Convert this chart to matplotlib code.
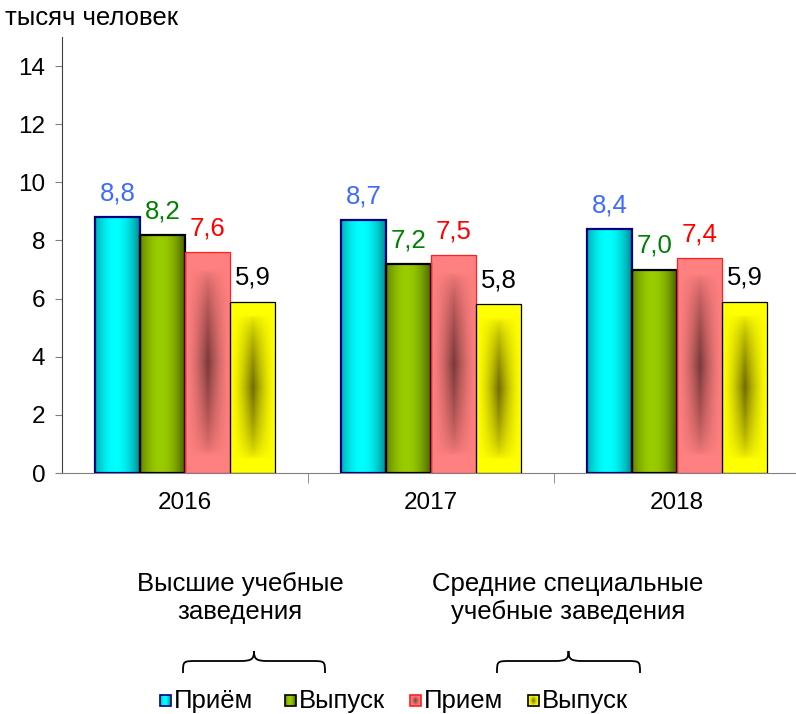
import numpy as np
import matplotlib
matplotlib.use("Agg")
import matplotlib.pyplot as plt
from matplotlib.path import Path
from matplotlib.patches import PathPatch, Rectangle
from matplotlib.colors import to_rgb

plt.rcParams["font.family"] = ["Liberation Sans", "DejaVu Sans"]

# данные
years = ["2016", "2017", "2018"]
vuz_priem = [8.8, 8.7, 8.4]
vuz_vypusk = [8.2, 7.2, 7.0]
ssuz_priem = [7.6, 7.5, 7.4]
ssuz_vypusk = [5.9, 5.8, 5.9]
series_names = ["Приём", "Выпуск", "Прием", "Выпуск"]
ylabel_text = "тысяч человек"
group_texts = ["Высшие учебные\nзаведения", "Средние специальные\nучебные заведения"]

series = [vuz_priem, vuz_vypusk, ssuz_priem, ssuz_vypusk]
# (край, центр, вид градиента, цвет обводки, толщина, цвет подписи)
styles = [
    ("#007880", "#00ffff", "h", "#000080", 1.6, "#3d6bff"),
    ("#3f5200", "#99cc00", "h", "#000000", 1.6, "#008000"),
    ("#ff8080", "#7a3838", "r", "#ff2020", 0.9, "#ff0000"),
    ("#ffff00", "#706c00", "r", "#000000", 0.9, "#000000"),
]

W, H = 796, 714
FS = 18.5
fig = plt.figure(figsize=(W / 100, H / 100), dpi=100)
ax = fig.add_axes([62 / W, 1 - 473 / H, 738 / W, (473 - 37) / H])


def grad_img(c_edge, c_mid, kind, n=120):
    e = np.array(to_rgb(c_edge))
    m = np.array(to_rgb(c_mid))
    xs = np.linspace(0, 1, n)
    X, Y = np.meshgrid(xs, xs)
    if kind == "h":
        t = np.sin(np.pi * (0.1 + 0.9 * X)) ** 0.8
    else:
        fx = np.clip(1 - np.abs(X - 0.5) / 0.5, 0, 1) ** 1.6
        fy = np.clip(1 - np.abs(Y - 0.5) / 0.42, 0, 1) ** 0.6
        t = fx * fy
    return e + (m - e) * t[..., None]


x = np.arange(len(years))
bw = 0.183
for i, (vals, st) in enumerate(zip(series, styles)):
    edge, mid, kind, ec, lw, lc = st
    pos = x + (i - 1.5) * bw
    bars = ax.bar(pos, vals, bw, color="none", edgecolor=ec, linewidth=lw, zorder=3)
    img = grad_img(edge, mid, kind)
    for b, v in zip(bars, vals):
        x0 = b.get_x()
        im = ax.imshow(img, extent=(x0, x0 + bw, 0, v), aspect="auto",
                       origin="lower", zorder=2, interpolation="bilinear")
        im.set_clip_path(b)
        ax.text(x0 + bw / 2, v + 0.4, f"{v:.1f}".replace(".", ","),
                ha="center", va="bottom", fontsize=FS, color=lc)

ax.set_xlim(-0.5, 2.5)
ax.set_ylim(0, 15)
ax.set_yticks(range(0, 15, 2))
ax.tick_params(axis="y", labelsize=17.5, length=5, color="#808080", pad=7)
ax.set_xticks(x)
ax.set_xticklabels(years)
ax.set_xticks([0.5, 1.5, 2.5], minor=True)
ax.tick_params(axis="x", which="major", length=0, labelsize=17.5, pad=14)
ax.tick_params(axis="x", which="minor", length=7, color="#808080")
for s in ("top", "right"):
    ax.spines[s].set_visible(False)
ax.spines["left"].set_color("#404040")
ax.spines["bottom"].set_color("#808080")

# надписи и скобки в пиксельных координатах
ov = fig.add_axes([0, 0, 1, 1], facecolor="none")
ov.set_xlim(0, W)
ov.set_ylim(H, 0)
ov.axis("off")
ov.text(5, 18, ylabel_text, fontsize=FS, ha="left", va="center")
ov.text(240, 598, group_texts[0], fontsize=FS, ha="center", va="center", linespacing=1.2)
ov.text(568, 598, group_texts[1], fontsize=FS, ha="center", va="center", linespacing=1.2)


def brace(x0, x1, yt=651, yh=661, yb=673, r=14):
    xm = (x0 + x1) / 2
    verts = [(x0, yb), (x0, yh), (x0, yh), (x0 + r, yh),
             (xm - r, yh), (xm - 2, yh), (xm, yh - 2), (xm, yt),
             (xm, yh - 2), (xm + 2, yh), (xm + r, yh),
             (x1 - r, yh), (x1, yh), (x1, yh), (x1, yb)]
    codes = [Path.MOVETO, Path.CURVE4, Path.CURVE4, Path.CURVE4,
             Path.LINETO, Path.CURVE4, Path.CURVE4, Path.CURVE4,
             Path.CURVE4, Path.CURVE4, Path.CURVE4,
             Path.LINETO, Path.CURVE4, Path.CURVE4, Path.CURVE4]
    ov.add_patch(PathPatch(Path(verts, codes), fill=False, lw=1.3, color="black"))


brace(183, 325)
brace(497, 640)

# легенда
leg_x = [160, 285, 410, 528]
for lx, name, st in zip(leg_x, series_names, styles):
    edge, mid, kind, ec, lw, lc = st
    sq = Rectangle((lx, 695), 11, 11, facecolor="none", edgecolor=ec, lw=1.2, zorder=3)
    ov.add_patch(sq)
    im = ov.imshow(grad_img(edge, mid, kind, 20), extent=(lx, lx + 11, 706, 695),
                   aspect="auto", zorder=2)
    im.set_clip_path(sq)
    ov.text(lx + 14, 701, name, fontsize=FS, ha="left", va="center")
ov.set_xlim(0, W)
ov.set_ylim(H, 0)

fig.savefig("out.png", dpi=100)
